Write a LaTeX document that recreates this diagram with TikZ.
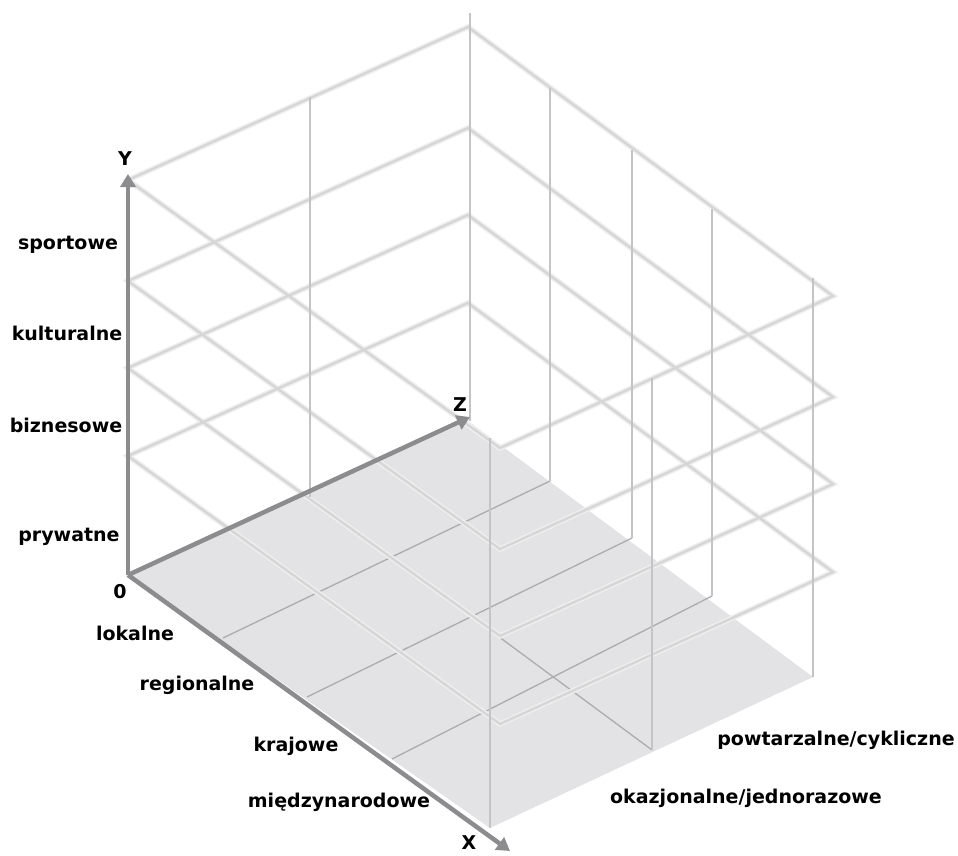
\documentclass[tikz,border=0pt]{standalone}
\usepackage{fontspec}
\setmainfont{DejaVu Sans}
\usetikzlibrary{arrows.meta}
\definecolor{axiscol}{RGB}{140,140,142}
\definecolor{postcol}{RGB}{196,196,199}
\definecolor{framecol}{RGB}{214,214,214}
\definecolor{frameglow}{RGB}{238,238,238}
\definecolor{floorcol}{RGB}{227,227,229}
\definecolor{gridcol}{RGB}{172,172,175}
\tikzset{
  axisline/.style={draw=axiscol, line width=4.5pt, -{Triangle[length=13pt,width=15pt]}},
  postline/.style={draw=postcol, line width=2pt},
  frameglowline/.style={draw=frameglow, line width=5.5pt, line join=miter},
  frameline/.style={draw=framecol, line width=2.4pt, line join=miter},
  floorgrid/.style={draw=gridcol, line width=1.3pt},
  lbl/.style={font=\bfseries\fontsize{19}{22}\selectfont, text=black, inner sep=0pt},
}
\begin{document}
\begin{tikzpicture}[x=1pt,y=-1pt]
\useasboundingbox (0,0) rectangle (958,855);
\fill[white] (0,0) rectangle (958,855);
% floor grid points
\coordinate (O)  at (128,575);
\coordinate (F1) at (223,638);
\coordinate (F2) at (307,697);
\coordinate (F3) at (392,759);
\coordinate (F4) at (490,828);
\coordinate (B0) at (468,421);
\coordinate (B1) at (550,481);
\coordinate (B2) at (632,538);
\coordinate (B3) at (712,596);
\coordinate (B4) at (813,677);
\coordinate (M0) at (310,497);
\coordinate (M4) at (652,750);
% floor
\fill[floorcol] (O) -- (B0) -- (B4) -- (F4) -- cycle;
\draw[floorgrid] (F1) -- (B1);
\draw[floorgrid] (F2) -- (B2);
\draw[floorgrid] (F3) -- (B3);
\draw[floorgrid] (M0) -- (M4);
% horizontal frames at each level
\foreach \h in {119,207,294,395} {
  \draw[frameglowline] (128,575-\h) -- (468,422-\h) -- (833,691-\h) -- (500,843-\h) -- cycle;
}
\foreach \h in {119,207,294,395} {
  \draw[frameline] (128,575-\h) -- (468,422-\h) -- (833,691-\h) -- (500,843-\h) -- cycle;
}
% vertical posts
\coordinate (T0) at (310,97);
\coordinate (TB0) at (470,13);
\coordinate (TB1) at (550,88);
\coordinate (TB2) at (632,150);
\coordinate (TB3) at (712,209);
\coordinate (TB4) at (813,278);
\coordinate (TF4) at (490,438);
\coordinate (TM4) at (652,378);
\coordinate (BB0) at (470,421);
\draw[postline] (T0) -- (M0);
\draw[postline] (TB0) -- (BB0);
\draw[postline] (TB1) -- (B1);
\draw[postline] (TB2) -- (B2);
\draw[postline] (TB3) -- (B3);
\draw[postline] (TB4) -- (B4);
\draw[postline] (TF4) -- (F4);
\draw[postline] (TM4) -- (M4);
% axes
\coordinate (Ytip) at (128,174);
\coordinate (Ztip) at (470,417);
\coordinate (Xtip) at (510,851);
\draw[axisline] (O) -- (Ytip);
\draw[axisline] (O) -- (Ztip);
\draw[axisline] (O) -- (Xtip);
% labels
\node[lbl] (ylab) at (125,159) {Y};
\node[lbl] (zlab) at (460,405) {Z};
\node[lbl] (xlab) at (469,843) {X};
\node[lbl] (zero) at (120,592) {0};
\node[lbl] (spo) at (68,245) {sportowe};
\node[lbl] (kul) at (67,333) {kulturalne};
\node[lbl] (biz) at (66,425) {biznesowe};
\node[lbl] (pry) at (69,537) {prywatne};
\node[lbl] (lok) at (135,633) {lokalne};
\node[lbl] (reg) at (197,685) {regionalne};
\node[lbl] (kra) at (296,746) {krajowe};
\node[lbl] (mie) at (339,802) {międzynarodowe};
\node[lbl] (pow) at (836,740) {powtarzalne/cykliczne};
\node[lbl] (oka) at (746,798) {okazjonalne/jednorazowe};
\end{tikzpicture}
\end{document}
